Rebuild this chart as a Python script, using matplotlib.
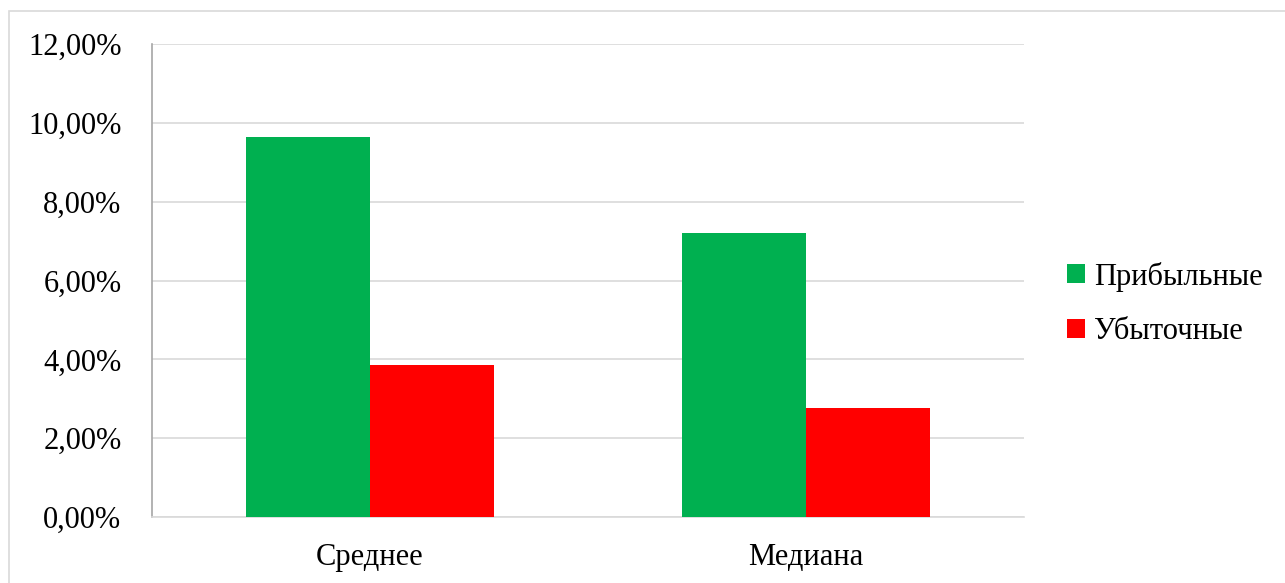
import matplotlib
matplotlib.use('Agg')
import matplotlib.pyplot as plt
from matplotlib.patches import Rectangle
from matplotlib.ticker import FuncFormatter
import numpy as np

plt.rcParams['font.family'] = ['Liberation Serif', 'DejaVu Serif']

categories = ['Среднее', 'Медиана']
series = ['Прибыльные', 'Убыточные']
profitable = [9.65, 7.20]
unprofitable = [3.86, 2.77]
colors = ['#00B050', '#FF0000']

W, H = 1285, 583
fig = plt.figure(figsize=(W / 100, H / 100), dpi=100)

# outer chart frame
fig.patches.append(Rectangle((9 / W, -0.1), 1.2, (H - 11) / H + 0.1,
                             transform=fig.transFigure, fill=False,
                             edgecolor='#D9D9D9', linewidth=1.2))

ax = fig.add_axes([152 / W, (H - 517) / H, (1024 - 152) / W, (517 - 44) / H])

x = np.arange(len(categories))
bw = 124 / 436
ax.bar(x - bw / 2, profitable, bw, color=colors[0], label=series[0], zorder=3)
ax.bar(x + bw / 2, unprofitable, bw, color=colors[1], label=series[1], zorder=3)

ax.set_xlim(-0.5, len(categories) - 0.5)
ax.set_ylim(0, 12)
ax.set_yticks(np.arange(0, 13, 2))
ax.yaxis.set_major_formatter(FuncFormatter(lambda v, p: f'{v:.2f}%'.replace('.', ',')))
ax.set_xticks(x)
ax.set_xticklabels(categories)
ax.grid(axis='y', color='#D9D9D9', linewidth=1.2, zorder=0)
ax.tick_params(axis='both', length=0, labelsize=22, colors='black')
ax.tick_params(axis='y', pad=22)
ax.tick_params(axis='x', pad=19)

for side in ['top', 'right']:
    ax.spines[side].set_visible(False)
ax.spines['left'].set_color('#A6A6A6')
ax.spines['left'].set_linewidth(1.2)
ax.spines['bottom'].set_color('#D9D9D9')
ax.spines['bottom'].set_linewidth(1.2)

fig.legend(loc='center left', bbox_to_anchor=(1039 / W, (H - 304) / H),
           frameon=False, fontsize=22, handlelength=0.6, handleheight=0.6,
           handletextpad=0.3, labelspacing=0.85)

fig.savefig('out.png', dpi=100)
